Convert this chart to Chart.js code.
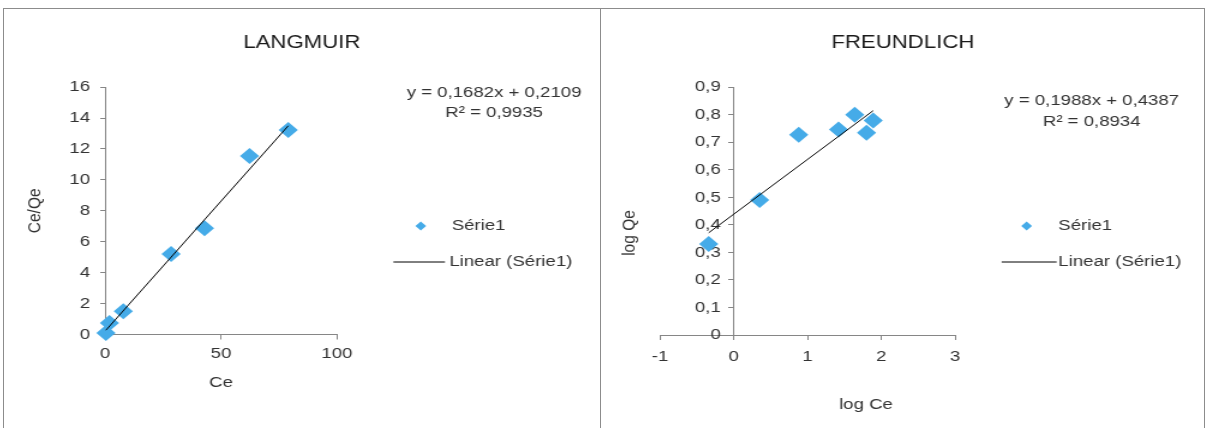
<!DOCTYPE html>
<html>
<head>
<meta charset="utf-8">
<script src="https://cdn.jsdelivr.net/npm/chart.js@4"></script>
<style>
  html, body { margin: 0; padding: 0; background: #fff; }
  body { width: 1206px; height: 428px; position: relative; overflow: hidden; }
  .frame { position: absolute; top: 8px; height: 430px; border: 1px solid #8c8c8c; border-bottom: none; box-sizing: border-box; }
  .wrap { position: absolute; top: 8px; transform: scaleX(1.2); transform-origin: 0 0; }
  canvas { display: block; }
</style>
</head>
<body>
<div class="frame" style="left:3px;width:598px"></div>
<div class="frame" style="left:600px;width:605px"></div>
<div class="wrap" style="left:3px"><canvas id="langmuir" width="498" height="420"></canvas></div>
<div class="wrap" style="left:601px"><canvas id="freundlich" width="503" height="420"></canvas></div>
<script>
// Langmuir: Ce vs Ce/Qe
const langCe = [0.4, 1.9, 7.9, 28.5, 42.9, 62.3, 79.0]
const langCeQe = [0.1, 0.75, 1.5, 5.2, 6.87, 11.55, 13.23]
const langFit = [0.1682, 0.2109]   // slope, intercept
const langR2 = 0.9935

// Freundlich: log Ce vs log Qe
const freLogCe = [-0.34, 0.35, 0.88, 1.42, 1.64, 1.80, 1.89]
const freLogQe = [0.33, 0.49, 0.727, 0.746, 0.80, 0.734, 0.779]
const freFit = [0.1988, 0.4387]
const freR2 = 0.8934

const seriesName = 'Série1'
const trendName = 'Linear (Série1)'

const AXIS = '#868686'
const BLUE = '#45ABE8'
const FONT = "'Liberation Sans', Arial, sans-serif"

Chart.defaults.font.family = FONT
Chart.defaults.font.size = 15.5
Chart.defaults.color = '#333'

function comma(v, d) {
    return v === 0 ? '0' : v.toFixed(d).replace('.', ',')
}

function trend(xs, fit) {
    let lo = Math.min(...xs), hi = Math.max(...xs)
    return [{ x: lo, y: fit[0] * lo + fit[1] }, { x: hi, y: fit[0] * hi + fit[1] }]
}

function points(xs, ys) {
    return xs.map((x, i) => ({ x: x, y: ys[i] }))
}

// draws the equation, the legend and any loose axis titles
const extras = {
    id: 'extras',
    afterDraw(chart, args, o) {
        const ctx = chart.ctx
        ctx.save()
        ctx.font = '15.5px ' + FONT
        ctx.fillStyle = '#333'
        ctx.textBaseline = 'middle'
        ctx.textAlign = 'center'
        o.eq.forEach((t, i) => ctx.fillText(t, o.eqX, o.eqY[i]))

        // legend
        const lg = o.legend
        ctx.fillStyle = BLUE
        ctx.beginPath()
        ctx.moveTo(lg.mx - 4.5, lg.my)
        ctx.lineTo(lg.mx, lg.my - 4.5)
        ctx.lineTo(lg.mx + 4.5, lg.my)
        ctx.lineTo(lg.mx, lg.my + 4.5)
        ctx.closePath()
        ctx.fill()
        ctx.strokeStyle = '#000'
        ctx.lineWidth = 1
        ctx.beginPath()
        ctx.moveTo(lg.lx1, lg.ly)
        ctx.lineTo(lg.lx2, lg.ly)
        ctx.stroke()
        ctx.fillStyle = '#333'
        ctx.textAlign = 'left'
        ctx.fillText(seriesName, lg.tx, lg.my)
        ctx.fillText(trendName, lg.ltx, lg.ly)

        if (o.xTitle) {
            ctx.textAlign = 'center'
            ctx.fillText(o.xTitle.text, o.xTitle.x, o.xTitle.y)
        }
        if (o.yTitle) {
            ctx.translate(o.yTitle.x, o.yTitle.y)
            ctx.rotate(-Math.PI / 2)
            ctx.textAlign = 'center'
            ctx.fillText(o.yTitle.text, 0, 0)
        }
        ctx.restore()
    }
}

function datasets(xs, ys, fit) {
    return [
        {
            label: trendName,
            data: trend(xs, fit),
            showLine: true,
            borderColor: '#000',
            borderWidth: 1,
            pointRadius: 0
        },
        {
            label: seriesName,
            data: points(xs, ys),
            pointStyle: 'rectRot',
            pointRadius: 8,
            backgroundColor: BLUE,
            borderWidth: 0,
            clip: false
        }
    ]
}

function titleOpts(text) {
    return {
        display: true,
        text: text,
        color: '#1a1a1a',
        font: { size: 18.5, weight: 'normal' },
        padding: { top: 23.9, bottom: 33 }
    }
}

function spacer(pos, w) {
    return {
        type: 'linear',
        position: pos,
        ticks: { display: false },
        grid: { display: false },
        border: { display: false },
        afterFit: s => { s.width = w }
    }
}

new Chart('langmuir', {
    type: 'scatter',
    data: { datasets: datasets(langCe, langCeQe, langFit) },
    options: {
        responsive: false,
        animation: false,
        events: [],
        plugins: {
            legend: { display: false },
            tooltip: { enabled: false },
            title: titleOpts('LANGMUIR'),
            extras: {
                eq: ['y = ' + comma(langFit[0], 4) + 'x + ' + comma(langFit[1], 4), 'R² = ' + comma(langR2, 4)],
                eqX: 409.2, eqY: [85, 105],
                legend: { mx: 348.1, my: 218, tx: 373.9, lx1: 325.3, lx2: 368.3, ly: 254, ltx: 371.9 }
            }
        },
        scales: {
            x: {
                type: 'linear', min: 0, max: 100,
                ticks: { stepSize: 50, padding: 5 },
                grid: { drawOnChartArea: false, tickLength: 5, color: AXIS },
                border: { color: AXIS },
                title: { display: true, text: 'Ce', padding: { top: 0, bottom: 36 } },
                afterFit: s => { s.height = 93.5 }
            },
            y: {
                type: 'linear', min: 0, max: 16,
                ticks: { stepSize: 2, padding: 8.5 },
                grid: { drawOnChartArea: false, tickLength: 4, color: AXIS },
                border: { color: AXIS },
                title: { display: true, text: 'Ce/Qe', padding: { top: 17.4, bottom: 0 } },
                afterFit: s => { s.width = 85 }
            },
            yRight: spacer('right', 219.7)
        }
    },
    plugins: [extras]
})

new Chart('freundlich', {
    type: 'scatter',
    data: { datasets: datasets(freLogCe, freLogQe, freFit) },
    options: {
        responsive: false,
        animation: false,
        events: [],
        plugins: {
            legend: { display: false },
            tooltip: { enabled: false },
            title: titleOpts('FREUNDLICH'),
            extras: {
                eq: ['y = ' + comma(freFit[0], 4) + 'x + ' + comma(freFit[1], 4), 'R² = ' + comma(freR2, 4)],
                eqX: 408.9, eqY: [93, 114],
                legend: { mx: 354.7, my: 218, tx: 381.1, lx1: 333.9, lx2: 379.7, ly: 254, ltx: 381.1 },
                xTitle: { text: 'log Ce', x: 220.8, y: 397 },
                yTitle: { text: 'log Qe', x: 24.2, y: 225 }
            }
        },
        scales: {
            x: {
                type: 'linear', min: -1, max: 3,
                ticks: { stepSize: 1, padding: 7 },
                grid: { drawOnChartArea: false, tickLength: 5, color: AXIS },
                border: { color: AXIS },
                afterFit: s => { s.height = 93 }
            },
            y: {
                type: 'linear', min: 0, max: 0.9,
                position: { x: 0 },
                // labels sit on the axis when it is placed at x = 0, the trailing gap keeps them off it
                ticks: { stepSize: 0.1, callback: v => comma(v, 1) + '\u2002\u2009' },
                grid: { drawOnChartArea: false, tickLength: 4, color: AXIS },
                border: { color: AXIS }
            },
            yLeft: spacer('left', 49.2),
            yRight: spacer('right', 208)
        }
    },
    plugins: [extras]
})
</script>
</body>
</html>
